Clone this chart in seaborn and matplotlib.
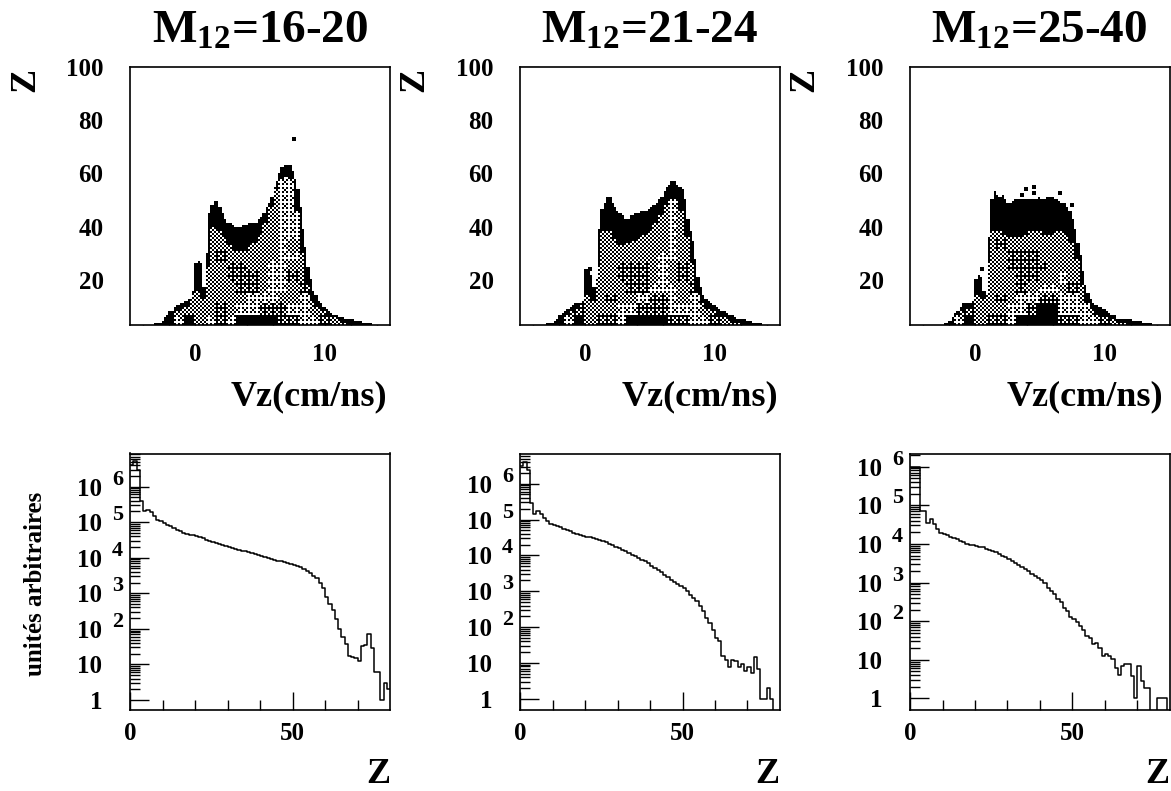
import numpy as np
import matplotlib
matplotlib.use('Agg')
import matplotlib.pyplot as plt
from matplotlib.colors import ListedColormap
import seaborn as sns

W, H = 1171, 791

titles = ['M$_{12}$=16-20', 'M$_{12}$=21-24', 'M$_{12}$=25-40']

# TOP ROW: Z vs Vz, upper edge of the cloud read every 0.2 in Vz, starting at Vz=-3.2
z_top_1 = [3.5, 4, 4, 4.5, 6, 7, 8, 8.5, 9.5, 10.5, 11, 11, 12, 12.5, 13, 16, 26, 27, 26, 17, 30, 45, 48, 49.5, 49.5, 47.5,
           45, 43, 41.5, 41, 40.5, 39.5, 39.5, 40, 40.5, 40.5, 41, 41, 41.5, 41.5, 42.5, 43.5, 45, 47, 49, 51, 55, 57.5,
           60, 62.5, 63.5, 63.5, 63, 61, 58, 54, 47, 39, 32, 25, 20, 16, 14, 12, 11, 10, 9, 8, 7.5, 7, 6.5, 6, 6, 5.5, 5,
           5, 5, 4.5, 4.5, 4.5, 4, 4, 3.5, 3.5, 3, 3]
z_top_2 = [3, 3.5, 3.5, 4, 4.5, 5, 6.5, 7.5, 8, 9, 10, 10.5, 11, 11, 11, 13, 24, 25, 22, 17, 20, 39, 46.5, 48.5, 51, 51.5,
           49, 47, 46, 45, 44, 43, 43, 44, 44.5, 45, 45, 45.5, 46, 46, 46.5, 47, 48, 49, 50, 51.5, 53.5, 55,
           56, 57, 57, 56, 55, 54, 50, 43, 38, 34.5, 28, 21, 17, 14.5, 13, 12, 11, 10.5, 10, 9, 8.5, 8, 7.5, 7, 6.5, 6, 5.5,
           5.5, 5, 5, 4.5, 4.5, 4, 4, 3.5, 3.5, 3, 3]
z_top_3 = [3, 3, 3, 3, 3.5, 3.5, 4.5, 6, 7.5, 8.5, 10, 11, 11, 11, 11, 12, 20, 22, 21, 16, 14, 36, 50, 53.5, 52, 51,
           52, 50, 49, 48.5, 49.5, 50, 50, 50, 50.5, 50, 50.5, 50, 50.5, 50.5, 51, 50.5, 50.5, 51, 51, 51, 50.5, 50,
           49.5, 49, 48.5, 47, 45.5, 43, 39, 34, 29, 23, 18, 15, 13, 11.5, 10.5, 10, 9.5, 9, 8.5, 7.5, 7, 6.5, 5.5, 5.5, 5, 5, 5,
           5, 4.5, 4.5, 4.5, 4.5, 4, 4, 3.5, 3.5, 3, 3]

# lower edge of the solid black rim, every 0.4 in Vz
z_band_1 = [3, 3, 5, 6, 8, 9, 10, 15, 16, 13, 25, 40, 38, 36, 33, 31, 31, 31, 33, 34, 37, 41,
            47, 54, 58, 59, 58, 46, 30, 18, 12, 10, 8, 7, 6, 5, 4, 3, 3, 3, 3, 3, 3]
z_band_2 = [3, 3, 4, 5.5, 7, 8.5, 9, 13, 14, 12, 25, 38, 38, 35, 33, 33, 34, 34.5, 36, 37, 38, 41,
            44, 48, 50, 50, 46, 36, 26, 16, 11.5, 9, 8, 7, 6, 5, 4, 3.5, 3, 3, 3, 3, 3]
z_band_3 = [3, 3, 3, 4.5, 6.5, 8.5, 9, 9.5, 14, 13, 26, 38, 38, 37, 36, 36, 36, 37, 38, 38, 38, 37,
            37, 38, 38, 37, 34, 28, 18, 11, 9, 7, 6.5, 6, 5, 4, 3.5, 3, 3, 3, 3, 3, 3]

# grey level inside the distribution, 0 white to 4 black
# rows go from Z=63-67 down to Z=3-7, columns are Vz bins 0.8 wide starting at -3.2
tone_1 = ['2222222222221122222222', '2222222222221122222222', '2222222222221122222222', '2222222222221122222222',
          '2222222222221122222222', '2222222222221122222222', '2222223322221122222222', '2222222332221122222222',
          '2222222222221222222222', '2222223222221122222222', '2222222332211222222222', '2222222333211322222222',
          '2222222233211232222222', '2222222221112212222222', '2222223211333112222222', '4414213144443311321444']
tone_2 = ['2222222222221222222222', '2222222222221222222222', '2222222222221222222222', '2222222222221222222222',
          '2222222222221222222222', '2222222222221222222222', '2222222222221222222222', '2222222222221222222222',
          '2222222222221222222222', '2222222222211222222222', '2222222333212322222222', '2222222333212322222222',
          '2222222233111232222222', '2222223221331213222222', '2223222113331112222222', '4414233144443311322444']
tone_3 = ['2222222222222222222222', '2222222222222222222222', '2222222222222222222222', '2222222222222222222222',
          '2222222222222222222222', '2222222222222222222222', '2222222222222222222222', '2222222222222222222222',
          '2222223222222222222222', '2222222333222222222222', '2222222333322222222222', '2222222233221222222222',
          '2222222232112322222222', '2222223211331123222222', '2223222113441112222222', '4414233144443311322444']

# isolated points above the main distribution (Vz, Z)
dots_1 = [(7.5, 73.3)]
dots_2 = [(0.3, 24.5)]
dots_3 = [(4.5, 55.2), (3.9, 54.2), (3.5, 52.3), (4.5, 52.7), (6.5, 53.2), (0.5, 24.8), (7.4, 48.2)]

# BOTTOM ROW: log10 of the counts for each Z bin, Z=0 to 79 (-1 means empty, off the axis)
log_counts_1 = [6.6, 6.72, 6.46, 5.59, 5.3, 5.35, 5.29, 5.16, 5.05, 5.02, 4.98, 4.93, 4.88, 4.84, 4.79, 4.75, 4.7, 4.67, 4.65, 4.63,
                4.62, 4.58, 4.55, 4.51, 4.48, 4.44, 4.41, 4.38, 4.35, 4.32, 4.3, 4.27, 4.25, 4.22, 4.2, 4.18, 4.15, 4.13, 4.1, 4.08,
                4.05, 4.02, 4.0, 3.97, 3.95, 3.92, 3.9, 3.87, 3.85, 3.82, 3.8, 3.77, 3.73, 3.69, 3.63, 3.57, 3.5, 3.42, 3.3, 3.14,
                2.89, 2.7, 2.52, 2.28, 2.0, 1.77, 1.58, 1.25, 1.2, 1.18, 1.11, 1.53, 1.56, 1.86, 1.46, 0.78, 0.78, 0, 0.47, 0.31]
log_counts_2 = [6.5, 6.6, 6.37, 5.46, 5.16, 5.23, 5.16, 5.04, 4.95, 4.88, 4.86, 4.83, 4.79, 4.74, 4.72, 4.67, 4.62, 4.6, 4.57, 4.55,
                4.52, 4.5, 4.48, 4.46, 4.42, 4.39, 4.36, 4.33, 4.29, 4.24, 4.2, 4.15, 4.11, 4.06, 4.01, 3.97, 3.92, 3.88, 3.83, 3.79,
                3.71, 3.65, 3.6, 3.53, 3.46, 3.39, 3.32, 3.26, 3.21, 3.15, 3.09, 3.0, 2.9, 2.81, 2.72, 2.58, 2.44, 2.25, 2.11, 1.93,
                1.69, 1.6, 1.2, 1.09, 0.9, 1.09, 1.05, 0.9, 0.98, 0.79, 0.88, 0.72, 1.16, 0.83, 0, 0, 0.3, 0, -1, -1]
log_counts_3 = [5.98, 5.98, 5.98, 4.86, 4.86, 4.55, 4.64, 4.51, 4.38, 4.28, 4.25, 4.23, 4.19, 4.16, 4.12, 4.08, 4.04, 4.01, 3.98, 3.97,
                3.95, 3.93, 3.91, 3.88, 3.85, 3.82, 3.78, 3.73, 3.69, 3.65, 3.6, 3.55, 3.5, 3.45, 3.4, 3.34, 3.29, 3.23, 3.17, 3.12,
                3.06, 3.0, 2.87, 2.78, 2.7, 2.58, 2.5, 2.35, 2.26, 2.11, 2.05, 1.98, 1.88, 1.77, 1.62, 1.57, 1.4, 1.44, 1.31, 1.1,
                1.16, 1.1, 1.01, 0.78, 0.6, 0.84, 0.88, 0.88, 0.58, 0.02, 0.84, 0.45, 0.28, 0.28, -1, -1, 0, 0, 0, -1]

top_panels = [(z_top_1, z_band_1, tone_1, dots_1), (z_top_2, z_band_2, tone_2, dots_2), (z_top_3, z_band_3, tone_3, dots_3)]
bottom_panels = [log_counts_1, log_counts_2, log_counts_3]
log_limits = [(-0.28, 6.93), (-0.31, 6.84), (-0.30, 6.34)]

# axes boxes in pixels
lefts = [130, 520, 910]
title_x = [260, 650, 1039]
vz_label_x = [309, 700, 1085]
z_left_x = [26, 415, 805]
z_bottom_x = [378, 767, 1157]

sns.set_style('ticks')
plt.rcParams['font.family'] = ['Liberation Serif', 'DejaVu Serif']
plt.rcParams['font.weight'] = 'bold'
plt.rcParams['text.color'] = 'k'
plt.rcParams['mathtext.fontset'] = 'custom'
plt.rcParams['mathtext.rm'] = 'Liberation Serif:bold'
plt.rcParams['mathtext.bf'] = 'Liberation Serif:bold'
plt.rcParams['mathtext.default'] = 'bf'

fig = plt.figure(figsize=(W / 100, H / 100), dpi=100)


def box(l, r, t, b):
    return fig.add_axes([l / W, 1 - b / H, (r - l) / W, (b - t) / H])


def label(x, y, s, size, **kw):
    fig.text(x / W, 1 - y / H, s, fontsize=size, fontweight='bold', color='k', **kw)


def frame(ax):
    for s in ax.spines.values():
        s.set_visible(True)
        s.set_color('k')
        s.set_linewidth(1.2)


# cell grid of the scatter picture: 2 px cells, halftoned like the printed figure
n_cols, n_rows = 130, 129
vz_per_col = 20 / n_cols
z_per_row = 97 / n_rows
tone_share = [0, 0.31, 0.5, 0.69, 1]
halftone = (np.array([[0, 8, 2, 10], [12, 4, 14, 6], [3, 11, 1, 9], [15, 7, 13, 5]]) + 0.5) / 16


def cells(z_top, z_band, tone, dots):
    out = np.zeros((n_rows, n_cols))
    for j in range(n_cols):
        vz = -5 + (j + 0.5) * vz_per_col
        k = int((vz + 3.2) // 0.4)
        if k < 0 or k >= len(z_band):
            continue
        top = z_top[int((vz + 3.2) // 0.2)]
        for i in range(n_rows):
            z = 100 - (i + 0.5) * z_per_row
            if z >= top:
                continue
            if z >= z_band[k]:
                out[i, j] = 1
            else:
                t = int(tone[15 - int((z - 3) // 4)][k // 2])
                out[i, j] = tone_share[t] > halftone[i % 4, j % 4]
    for vz, z in dots:
        i, j = int((100 - z) / z_per_row), int((vz + 5) / vz_per_col)
        out[i:i + 2, j:j + 2] = 1
    return out


bw = ListedColormap(['white', 'black'])
for n in range(3):
    ax = box(lefts[n], lefts[n] + 260, 67, 325)
    sns.heatmap(cells(*top_panels[n]), cmap=bw, vmin=0, vmax=1, cbar=False, ax=ax,
                xticklabels=False, yticklabels=False)
    frame(ax)
    ax.set_xticks([(v + 5) / vz_per_col for v in [0, 10]])
    ax.set_xticklabels(['0', '10'])
    ax.set_xticks([(v + 5) / vz_per_col for v in range(-4, 15, 2) if v not in (0, 10)], minor=True)
    ax.set_yticks([(100 - v) / z_per_row for v in [20, 40, 60, 80, 100]])
    ax.set_yticklabels(['20', '40', '60', '80', '100'], rotation=0)
    ax.set_yticks([(100 - v) / z_per_row for v in range(5, 100, 5) if v % 20], minor=True)
    ax.tick_params(axis='x', which='major', direction='in', length=7, width=1, pad=13, labelsize=18, color='k', labelcolor='k')
    ax.tick_params(axis='y', which='major', direction='in', length=14, width=1, pad=19, labelsize=18, color='k', labelcolor='k')
    ax.tick_params(which='minor', direction='in', length=7, width=1, color='k')
    ax.set_xlabel('')
    ax.set_ylabel('')
    label(title_x[n], 43, titles[n], 34, ha='center', va='baseline')
    label(vz_label_x[n], 405, 'Vz(cm/ns)', 26, ha='center', va='baseline')
    label(z_left_x[n], 80, 'Z', 26, ha='center', va='center', rotation=90)

z_edges = np.arange(81)
for n in range(3):
    ax = box(lefts[n], lefts[n] + 260, 453.5, 710)
    counts = 10.0 ** np.array(bottom_panels[n])
    sns.lineplot(x=z_edges, y=np.append(counts, counts[-1]), drawstyle='steps-post', estimator=None,
                 color='k', linewidth=1.1, ax=ax)
    ax.set_yscale('log')
    ax.set_xlim(0, 80)
    ax.set_ylim(10 ** log_limits[n][0], 10 ** log_limits[n][1])
    frame(ax)
    ax.set_xticks([0, 50])
    ax.set_xticklabels(['0', '50'])
    ax.set_xticks([v for v in range(10, 80, 10) if v != 50], minor=True)
    decades = [0, 1, 2, 3, 4, 5, 6]
    ax.set_yticks([10.0 ** d for d in decades])
    ax.set_yticklabels(['1', '10', '10', '10', '10', '10', '10'])
    ax.set_yticks([m * 10.0 ** d for d in decades for m in range(2, 10)
                   if m * 10.0 ** d < 10 ** log_limits[n][1]], minor=True)
    ax.set_yticklabels([], minor=True)
    ax.tick_params(axis='x', which='major', direction='in', length=13, width=1, pad=9, labelsize=18, color='k', labelcolor='k')
    ax.tick_params(axis='y', which='major', direction='in', length=14, width=1, pad=20, labelsize=18, color='k', labelcolor='k')
    ax.tick_params(which='minor', direction='in', length=7, width=1, color='k')
    ax.set_xlabel('')
    ax.set_ylabel('')
    for d in decades[2:]:
        ax.annotate(str(d), xy=(0, 10.0 ** d), xycoords=('axes fraction', 'data'), xytext=(-9, 5),
                    textcoords='offset points', ha='center', va='center', fontsize=16, fontweight='bold',
                    color='k', annotation_clip=False)
    label(z_bottom_x[n], 783, 'Z', 26, ha='center', va='baseline')

label(36, 584, 'unités arbitraires', 18, ha='center', va='center', rotation=90)

fig.savefig('out.png', dpi=100)
